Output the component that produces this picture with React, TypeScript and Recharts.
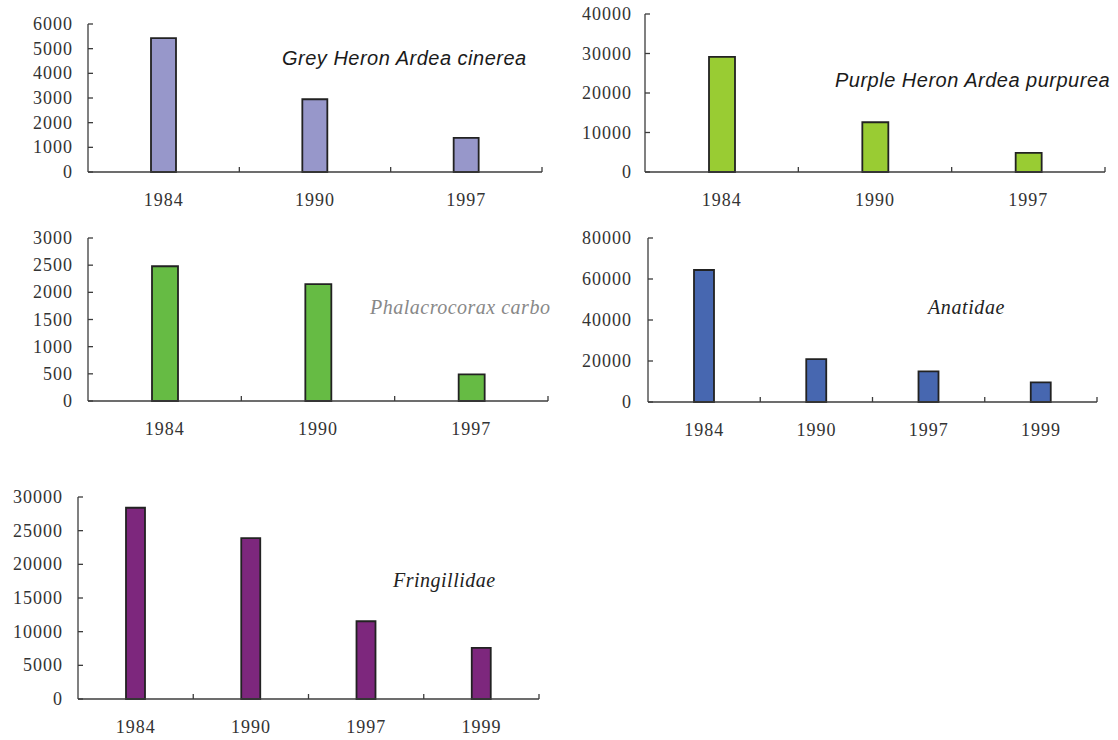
import React from "react";
import { BarChart, Bar, XAxis, YAxis } from "recharts";

// ── data ──
const years3 = ["1984", "1990", "1997"];
const years4 = ["1984", "1990", "1997", "1999"];

const greyHeron = [5430, 2950, 1380];
const purpleHeron = [29150, 12600, 4850];
const cormorant = [2480, 2150, 490];
const anatidae = [64400, 20900, 14900, 9600];
const fringillidae = [28400, 23900, 11550, 7600];

const greyTicks = [0, 1000, 2000, 3000, 4000, 5000, 6000];
const purpleTicks = [0, 10000, 20000, 30000, 40000];
const cormorantTicks = [0, 500, 1000, 1500, 2000, 2500, 3000];
const anatidaeTicks = [0, 20000, 40000, 60000, 80000];
const fringTicks = [0, 5000, 10000, 15000, 20000, 25000, 30000];

// ── layout ──
const W = 1118;
const H = 740;
const Y_W = 60;
const X_H = 40;
const X_MARGIN = 10;
const AXIS = "#3c3c3c";
const TEXT = "#333";
const SERIF = "'Liberation Serif', 'Times New Roman', serif";
const SANS = "'Liberation Sans', Arial, sans-serif";

const tickText: React.CSSProperties = {
  fontFamily: SERIF,
  fontSize: 18,
  letterSpacing: 1,
};

interface Plot {
  left: number;
  right: number;
  top: number;
  bottom: number;
}

function XTick(props: any) {
  const { x, y, payload } = props;
  const axisY = y - X_MARGIN;
  const half = payload?.offset ?? 0;
  return (
    <g>
      <line x1={x + half} x2={x + half} y1={axisY} y2={axisY - 5} stroke={AXIS} strokeWidth={1.3} />
      <text
        x={x}
        y={axisY + 28}
        textAnchor="middle"
        dominantBaseline="central"
        style={tickText}
        fill={TEXT}
      >
        {payload.value}
      </text>
    </g>
  );
}

function YTick(props: any) {
  const { x, y, payload, gap } = props;
  const axisX = x + gap;
  return (
    <g>
      <line x1={axisX} x2={axisX + 5} y1={y} y2={y} stroke={AXIS} strokeWidth={1.3} />
      <text
        x={x + 1}
        y={y}
        textAnchor="end"
        dominantBaseline="central"
        style={tickText}
        fill={TEXT}
      >
        {payload.value}
      </text>
    </g>
  );
}

function Panel({
  years,
  values,
  ticks,
  color,
  plot,
  barSize,
  gap = 16,
}: {
  years: string[];
  values: number[];
  ticks: number[];
  color: string;
  plot: Plot;
  barSize: number;
  gap?: number;
}) {
  const data = years.map((year, i) => ({ year, value: values[i] }));
  return (
    <div style={{ position: "absolute", left: 0, top: 0, width: W, height: H }}>
      <BarChart
        width={W}
        height={H}
        data={data}
        margin={{
          top: plot.top,
          bottom: H - plot.bottom - X_H,
          left: plot.left - Y_W,
          right: W - plot.right,
        }}
      >
        <XAxis
          dataKey="year"
          height={X_H}
          interval={0}
          tickLine={false}
          tickSize={0}
          tickMargin={X_MARGIN}
          axisLine={{ stroke: AXIS, strokeWidth: 1.3 }}
          tick={(p: any) => <XTick {...p} />}
        />
        <YAxis
          width={Y_W}
          domain={[0, ticks[ticks.length - 1]]}
          ticks={ticks}
          interval={0}
          tickLine={false}
          tickSize={0}
          tickMargin={gap}
          axisLine={{ stroke: AXIS, strokeWidth: 1.3 }}
          tick={(p: any) => <YTick {...p} gap={gap} />}
        />
        <Bar
          dataKey="value"
          fill={color}
          stroke="#222"
          strokeWidth={1.8}
          barSize={barSize}
          isAnimationActive={false}
        />
      </BarChart>
    </div>
  );
}

const titleSans: React.CSSProperties = {
  fontFamily: SANS,
  fontStyle: "italic",
  fontSize: 20,
  letterSpacing: 0.5,
};
const titleSerif: React.CSSProperties = {
  fontFamily: SERIF,
  fontStyle: "italic",
  fontSize: 20,
  letterSpacing: 0.5,
};

export default function App() {
  return (
    <div style={{ position: "absolute", left: 0, top: 0, width: W, height: H, background: "#fff" }}>
      <Panel
        years={years3}
        values={greyHeron}
        ticks={greyTicks}
        color="#9797CA"
        plot={{ left: 88, right: 542, top: 24, bottom: 172 }}
        barSize={25}
      />
      <Panel
        years={years3}
        values={purpleHeron}
        ticks={purpleTicks}
        color="#99CC33"
        plot={{ left: 645, right: 1105, top: 14, bottom: 172 }}
        barSize={26}
        gap={14}
      />
      <Panel
        years={years3}
        values={cormorant}
        ticks={cormorantTicks}
        color="#66BB44"
        plot={{ left: 88, right: 548, top: 238, bottom: 401 }}
        barSize={26}
      />
      <Panel
        years={years4}
        values={anatidae}
        ticks={anatidaeTicks}
        color="#4767B0"
        plot={{ left: 648, right: 1097, top: 238, bottom: 402 }}
        barSize={20}
        gap={17}
      />
      <Panel
        years={years4}
        values={fringillidae}
        ticks={fringTicks}
        color="#7D277D"
        plot={{ left: 78, right: 539, top: 497, bottom: 699 }}
        barSize={19}
      />
      <svg
        width={W}
        height={H}
        style={{ position: "absolute", left: 0, top: 0, pointerEvents: "none" }}
      >
        <text x={282} y={65} style={titleSans} fill="#1a1a1a">
          Grey Heron Ardea cinerea
        </text>
        <text x={835} y={87} style={titleSans} fill="#1a1a1a">
          Purple Heron Ardea purpurea
        </text>
        <text x={370} y={314} style={titleSerif} fill="#888">
          Phalacrocorax carbo
        </text>
        <text x={928} y={314} style={{ ...titleSerif, letterSpacing: 0.6 }} fill="#222">
          Anatidae
        </text>
        <text x={393} y={587} style={titleSerif} fill="#222">
          Fringillidae
        </text>
      </svg>
    </div>
  );
}
